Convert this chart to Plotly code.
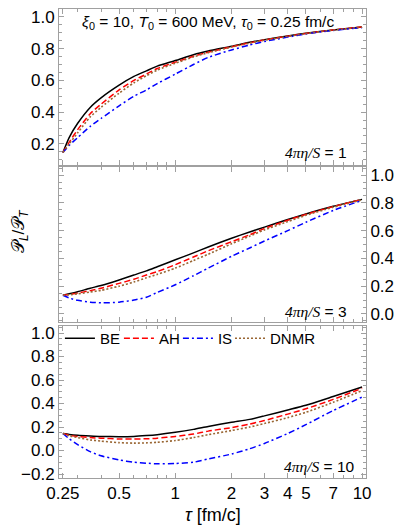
import plotly.graph_objects as go
from plotly.subplots import make_subplots

# proper time grid [fm/c]
tau = [0.25, 0.27, 0.3, 0.35, 0.4, 0.5, 0.6, 0.7, 0.8, 1, 1.25, 1.5, 2, 2.5, 3, 4, 5, 7, 10]

# 4 pi eta/S = 1
be_1 = [0.145, 0.24, 0.33, 0.43, 0.49, 0.57, 0.625, 0.66, 0.69, 0.725, 0.762, 0.785, 0.815, 0.84, 0.857, 0.88, 0.897, 0.918, 0.937]
ah_1 = [0.145, 0.21, 0.29, 0.39, 0.45, 0.54, 0.60, 0.64, 0.675, 0.715, 0.752, 0.778, 0.812, 0.837, 0.855, 0.879, 0.896, 0.918, 0.937]
is_1 = [0.145, 0.19, 0.24, 0.31, 0.36, 0.44, 0.50, 0.54, 0.58, 0.64, 0.70, 0.745, 0.792, 0.823, 0.845, 0.873, 0.893, 0.915, 0.933]
dnmr_1 = [0.145, 0.20, 0.27, 0.37, 0.43, 0.52, 0.585, 0.63, 0.665, 0.708, 0.748, 0.775, 0.81, 0.835, 0.853, 0.877, 0.895, 0.917, 0.936]

# 4 pi eta/S = 3
be_3 = [0.135, 0.145, 0.16, 0.185, 0.205, 0.245, 0.28, 0.31, 0.34, 0.39, 0.44, 0.482, 0.545, 0.59, 0.625, 0.68, 0.72, 0.775, 0.825]
ah_3 = [0.135, 0.14, 0.15, 0.168, 0.185, 0.22, 0.25, 0.28, 0.305, 0.355, 0.41, 0.455, 0.52, 0.57, 0.615, 0.675, 0.717, 0.773, 0.825]
is_3 = [0.135, 0.115, 0.098, 0.085, 0.08, 0.085, 0.10, 0.12, 0.155, 0.21, 0.275, 0.33, 0.415, 0.475, 0.525, 0.60, 0.66, 0.745, 0.818]
dnmr_3 = [0.135, 0.138, 0.145, 0.158, 0.17, 0.20, 0.23, 0.26, 0.285, 0.33, 0.385, 0.43, 0.505, 0.56, 0.605, 0.665, 0.71, 0.768, 0.822]

# 4 pi eta/S = 10
be_10 = [0.145, 0.137, 0.13, 0.124, 0.12, 0.118, 0.12, 0.127, 0.135, 0.155, 0.18, 0.205, 0.24, 0.265, 0.295, 0.345, 0.385, 0.46, 0.54]
ah_10 = [0.145, 0.13, 0.12, 0.11, 0.105, 0.098, 0.097, 0.10, 0.105, 0.12, 0.14, 0.165, 0.195, 0.225, 0.255, 0.31, 0.355, 0.435, 0.53]
is_10 = [0.145, 0.10, 0.05, -0.01, -0.045, -0.08, -0.10, -0.108, -0.113, -0.11, -0.10, -0.072, -0.03, 0.015, 0.06, 0.145, 0.22, 0.34, 0.455]
dnmr_10 = [0.145, 0.125, 0.11, 0.09, 0.08, 0.067, 0.063, 0.065, 0.07, 0.085, 0.11, 0.135, 0.17, 0.20, 0.23, 0.28, 0.325, 0.41, 0.51]

x_ticks = [0.25, 0.5, 1, 2, 3, 4, 5, 7, 10]
x_ticktext = ['0.25', '0.5', '1', '2', '3', '4', '5', '7', '10']
x_minor = [0.3, 0.4, 0.6, 0.7, 0.8, 0.9, 6, 8, 9]

panels = [
    (be_1, ah_1, is_1, dnmr_1),
    (be_3, ah_3, is_3, dnmr_3),
    (be_10, ah_10, is_10, dnmr_10),
]
names = ['BE', 'AH', 'IS', 'DNMR']
legends = ['legend', 'legend', 'legend', 'legend2']
styles = [
    dict(color='black', width=1.5, dash='solid'),
    dict(color='#ff0000', width=1.5, dash='6px,3px'),
    dict(color='#0000ff', width=1.5, dash='6px,3px,2px,3px'),
    dict(color='#996633', width=1.6, dash='2px,2px'),
]

fig = make_subplots(rows=3, cols=1, shared_xaxes=True, vertical_spacing=0.01)

for r, series in enumerate(panels, start=1):
    for name, ys, st, lg in zip(names, series, styles, legends):
        fig.add_trace(go.Scatter(
            x=tau, y=ys, mode='lines', name=name, legend=lg,
            line=dict(shape='spline', smoothing=0.6, **st),
            showlegend=(r == 3)
        ), row=r, col=1)

frame = '#a0a0a0'
axis_common = dict(
    showline=True, linecolor=frame, linewidth=1, mirror='allticks', automargin=False,
    ticks='inside', ticklen=5, tickcolor=frame, showgrid=False, zeroline=False,
    tickfont=dict(family='Liberation Sans', size=17, color='black'),
)

fig.update_xaxes(type='log', range=[-0.623, 1.021], tickvals=x_ticks, ticktext=x_ticktext,
                 minor=dict(tickvals=x_minor, ticklen=3, ticks='inside', tickcolor=frame),
                 **axis_common)

ydoms = [[0.6674, 1.0], [0.3326, 0.6631], [0.0, 0.3241]]
yranges = [[0.067, 1.05], [-0.058, 1.058], [-0.234, 1.06]]
ytickvals = [[0.2, 0.4, 0.6, 0.8, 1.0], [0.0, 0.2, 0.4, 0.6, 0.8, 1.0],
             [-0.2, 0.0, 0.2, 0.4, 0.6, 0.8, 1.0]]
for i in range(3):
    fig.update_yaxes(domain=ydoms[i], range=yranges[i], tickvals=ytickvals[i],
                     tickformat='.1f', side='right' if i == 1 else 'left',
                     minor=dict(dtick=0.05, ticklen=3, ticks='inside', tickcolor=frame),
                     row=i + 1, col=1, **axis_common)

math = "font-family:'Liberation Serif'"
annots = [
    dict(x=0.484, y=0.972, xanchor='center', yanchor='middle', font=dict(size=15.5),
         text="<i>ξ</i><sub>0</sub> = 10, <i>T</i><sub>0</sub> = 600 MeV, <i>τ</i><sub>0</sub> = 0.25 fm/c"),
    dict(x=0.945, y=0.695, xanchor='right', yanchor='middle', font=dict(size=15.5),
         text=f"<span style=\"{math}\"><i>4πη/S</i></span> = 1"),
    dict(x=0.945, y=0.3546, xanchor='right', yanchor='middle', font=dict(size=15.5),
         text=f"<span style=\"{math}\"><i>4πη/S</i></span> = 3"),
    dict(x=0.972, y=0.024, xanchor='right', yanchor='middle', font=dict(size=15.5),
         text=f"<span style=\"{math}\"><i>4πη/S</i></span> = 10"),
    dict(x=-0.127, y=0.5245, xanchor='center', yanchor='middle', textangle=-90, font=dict(size=17),
         text="𝒫<sub><i>L</i></sub>/𝒫<sub><i>T</i></sub>"),
    dict(x=0.5016, y=-0.079, xanchor='center', yanchor='middle', font=dict(size=18),
         text="<i>τ</i> [fm/c]"),
]
for a in annots:
    fig.add_annotation(xref='paper', yref='paper', showarrow=False, **a)

leg_common = dict(orientation='h', yanchor='top', xanchor='left', y=0.3326,
                  font=dict(size=15), bgcolor='rgba(0,0,0,0)', itemwidth=30, tracegroupgap=0)

fig.update_layout(
    width=399, height=532,
    margin=dict(l=59, r=33, t=9, b=54),
    paper_bgcolor='white', plot_bgcolor='white',
    font=dict(family='Liberation Sans', color='black'),
    legend=dict(x=0.003, entrywidth=14, entrywidthmode='pixels', **leg_common),
    legend2=dict(x=0.557, **leg_common),
)

# drop the default page margin so the figure sits at the window's corner
fig.write_html("out.html", config={'displayModeBar': False},
               post_script="document.body.style.margin='0px';")
